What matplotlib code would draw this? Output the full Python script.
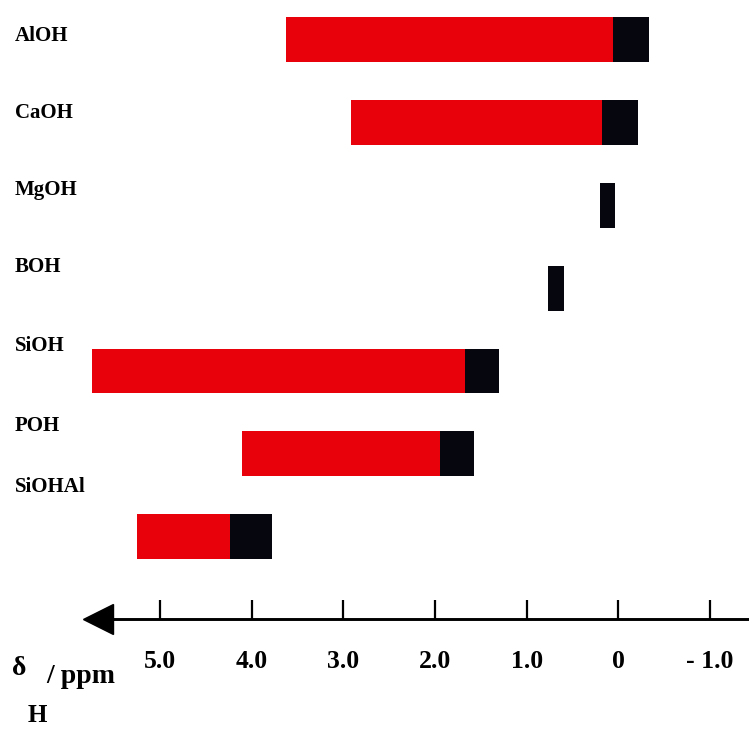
import matplotlib
matplotlib.use("Agg")
import matplotlib.pyplot as plt
import matplotlib.transforms as mtransforms
import numpy as np

# hydroxyl groups, top to bottom
groups = ['AlOH', 'CaOH', 'MgOH', 'BOH', 'SiOH', 'POH', 'SiOHAl']
# red range (high-field end of the broad part), ppm; nan = no red part
red_hi = [3.62, 2.92, np.nan, np.nan, 5.74, 4.11, 5.25]
# black range, ppm
black_hi = [0.06, 0.18, 0.20, 0.77, 1.67, 1.95, 4.24]
black_lo = [-0.33, -0.21, 0.04, 0.59, 1.30, 1.57, 3.78]

tick_vals = [5, 4, 3, 2, 1, 0, -1]
tick_labels = ['5.0', '4.0', '3.0', '2.0', '1.0', '0', '- 1.0']

# layout: label rows sit a bit above the bars
label_y = [-0.05, 0.88, 1.82, 2.75, 3.70, 4.67, 5.40]
axis_y = 7.0
arrow_center = 5.68

plt.rcParams['font.family'] = 'Liberation Serif'
plt.rcParams['font.weight'] = 'bold'

fig = plt.figure(figsize=(7.49, 7.32), dpi=100)
ax = fig.add_axes([0, 0, 1, 1])

y = np.arange(len(groups))
red_hi = np.array(red_hi)
black_hi = np.array(black_hi)
black_lo = np.array(black_lo)

ax.barh(y, red_hi - black_hi, left=black_hi, height=0.54, color='#e8000b')
ax.barh(y, black_hi - black_lo, left=black_lo, height=0.54, color='#06060f')

ax.set_xlim(6.745, -1.426)
ax.set_ylim(8.36, -0.48)

# group labels on the left
trans = mtransforms.blended_transform_factory(ax.transAxes, ax.transData)
for name, ly in zip(groups, label_y):
    ax.text(0.02, ly, name, transform=trans, ha='left', va='center',
            fontsize=15, fontweight='bold')

# chemical shift axis with arrow pointing to high ppm
for s in ['top', 'left', 'right']:
    ax.spines[s].set_visible(False)
ax.spines['bottom'].set_position(('data', axis_y))
ax.spines['bottom'].set_bounds(-1.426, arrow_center)
ax.spines['bottom'].set_linewidth(2.1)
ax.plot([arrow_center], [axis_y], marker='<', markersize=22, color='black',
        clip_on=False)

ax.set_yticks([])
ax.set_xticks(tick_vals)
ax.set_xticklabels(tick_labels, fontsize=18.5, fontweight='bold')
ax.tick_params(axis='x', direction='in', length=14, width=1.6, pad=22)

# axis label delta_H / ppm
fig.text(12 / 749, 1 - 675 / 732, 'δ', fontsize=20, fontweight='bold',
         ha='left', va='baseline')
fig.text(28 / 749, 1 - 722 / 732, 'H', fontsize=18, fontweight='bold',
         ha='left', va='baseline')
fig.text(46 / 749, 1 - 683 / 732, '/ ppm', fontsize=20, fontweight='bold',
         ha='left', va='baseline')

fig.savefig('out.png', dpi=100, facecolor='white')
